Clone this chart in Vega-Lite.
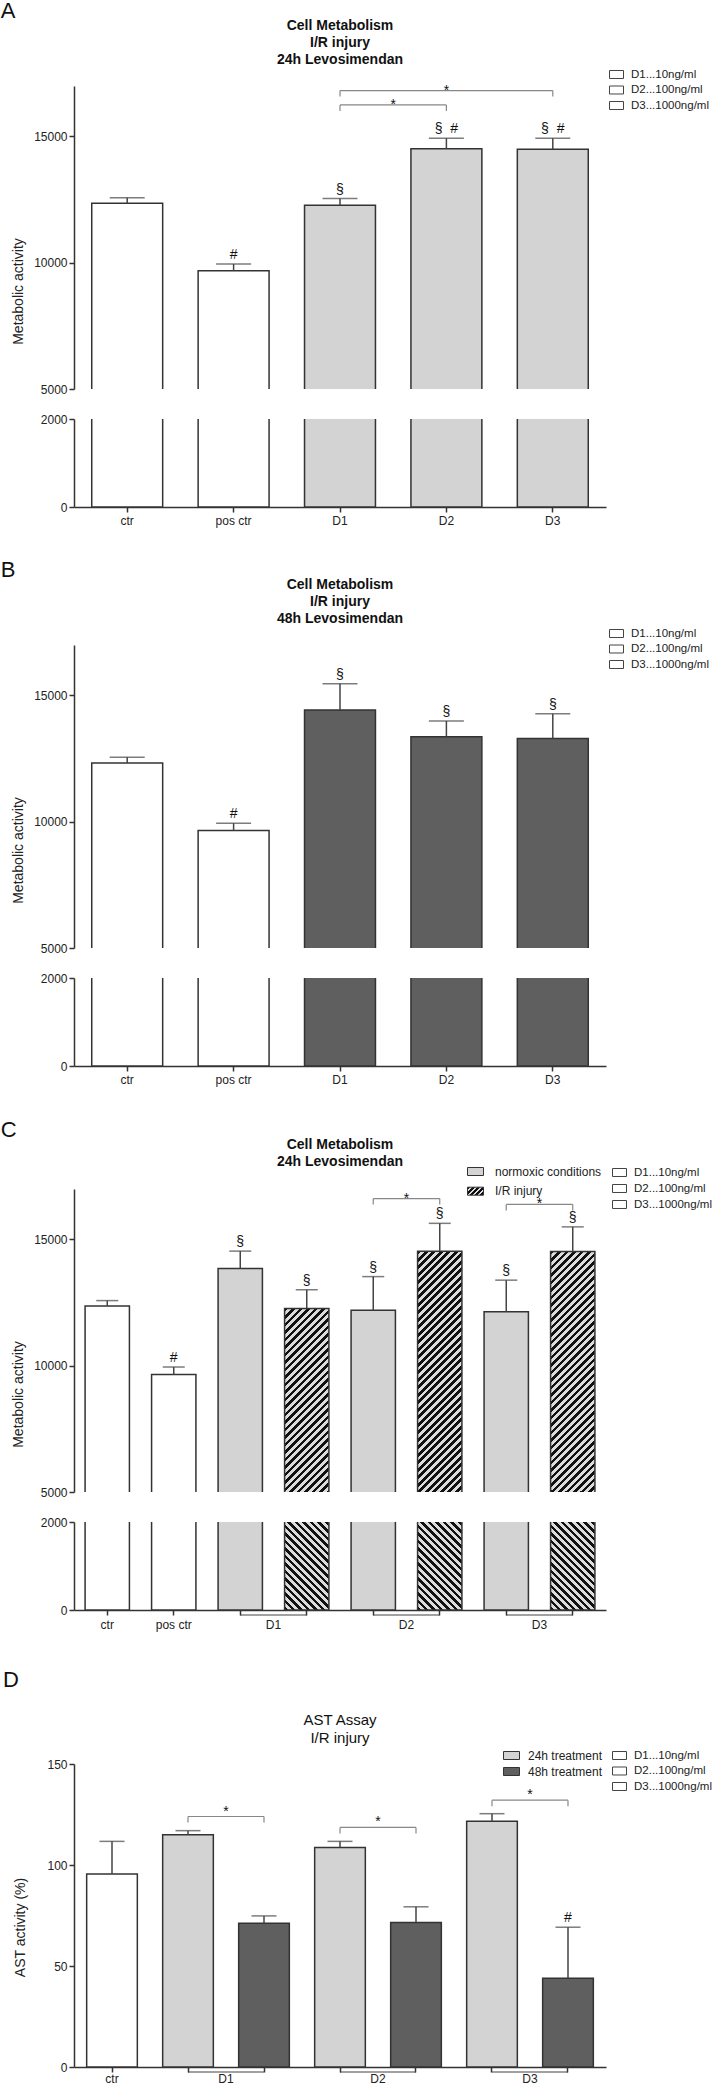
{
"$schema": "https://vega.github.io/schema/vega-lite/v6.json",
"background": "white",
"padding": {"left": 0, "top": 0, "right": 0, "bottom": 0},
"params": [{"name": "hatchStops", "value": [
{"offset":0,"color":"#111"},{"offset":0.0125,"color":"#111"},{"offset":0.0125,"color":"#dcdcdc"},{"offset":0.025,"color":"#dcdcdc"},
{"offset":0.025,"color":"#111"},{"offset":0.0375,"color":"#111"},{"offset":0.0375,"color":"#dcdcdc"},{"offset":0.05,"color":"#dcdcdc"},
{"offset":0.05,"color":"#111"},{"offset":0.0625,"color":"#111"},{"offset":0.0625,"color":"#dcdcdc"},{"offset":0.075,"color":"#dcdcdc"},
{"offset":0.075,"color":"#111"},{"offset":0.0875,"color":"#111"},{"offset":0.0875,"color":"#dcdcdc"},{"offset":0.1,"color":"#dcdcdc"},
{"offset":0.1,"color":"#111"},{"offset":0.1125,"color":"#111"},{"offset":0.1125,"color":"#dcdcdc"},{"offset":0.125,"color":"#dcdcdc"},
{"offset":0.125,"color":"#111"},{"offset":0.1375,"color":"#111"},{"offset":0.1375,"color":"#dcdcdc"},{"offset":0.15,"color":"#dcdcdc"},
{"offset":0.15,"color":"#111"},{"offset":0.1625,"color":"#111"},{"offset":0.1625,"color":"#dcdcdc"},{"offset":0.175,"color":"#dcdcdc"},
{"offset":0.175,"color":"#111"},{"offset":0.1875,"color":"#111"},{"offset":0.1875,"color":"#dcdcdc"},{"offset":0.2,"color":"#dcdcdc"},
{"offset":0.2,"color":"#111"},{"offset":0.2125,"color":"#111"},{"offset":0.2125,"color":"#dcdcdc"},{"offset":0.225,"color":"#dcdcdc"},
{"offset":0.225,"color":"#111"},{"offset":0.2375,"color":"#111"},{"offset":0.2375,"color":"#dcdcdc"},{"offset":0.25,"color":"#dcdcdc"},
{"offset":0.25,"color":"#111"},{"offset":0.2625,"color":"#111"},{"offset":0.2625,"color":"#dcdcdc"},{"offset":0.275,"color":"#dcdcdc"},
{"offset":0.275,"color":"#111"},{"offset":0.2875,"color":"#111"},{"offset":0.2875,"color":"#dcdcdc"},{"offset":0.3,"color":"#dcdcdc"},
{"offset":0.3,"color":"#111"},{"offset":0.3125,"color":"#111"},{"offset":0.3125,"color":"#dcdcdc"},{"offset":0.325,"color":"#dcdcdc"},
{"offset":0.325,"color":"#111"},{"offset":0.3375,"color":"#111"},{"offset":0.3375,"color":"#dcdcdc"},{"offset":0.35,"color":"#dcdcdc"},
{"offset":0.35,"color":"#111"},{"offset":0.3625,"color":"#111"},{"offset":0.3625,"color":"#dcdcdc"},{"offset":0.375,"color":"#dcdcdc"},
{"offset":0.375,"color":"#111"},{"offset":0.3875,"color":"#111"},{"offset":0.3875,"color":"#dcdcdc"},{"offset":0.4,"color":"#dcdcdc"},
{"offset":0.4,"color":"#111"},{"offset":0.4125,"color":"#111"},{"offset":0.4125,"color":"#dcdcdc"},{"offset":0.425,"color":"#dcdcdc"},
{"offset":0.425,"color":"#111"},{"offset":0.4375,"color":"#111"},{"offset":0.4375,"color":"#dcdcdc"},{"offset":0.45,"color":"#dcdcdc"},
{"offset":0.45,"color":"#111"},{"offset":0.4625,"color":"#111"},{"offset":0.4625,"color":"#dcdcdc"},{"offset":0.475,"color":"#dcdcdc"},
{"offset":0.475,"color":"#111"},{"offset":0.4875,"color":"#111"},{"offset":0.4875,"color":"#dcdcdc"},{"offset":0.5,"color":"#dcdcdc"},
{"offset":0.5,"color":"#111"},{"offset":0.5125,"color":"#111"},{"offset":0.5125,"color":"#dcdcdc"},{"offset":0.525,"color":"#dcdcdc"},
{"offset":0.525,"color":"#111"},{"offset":0.5375,"color":"#111"},{"offset":0.5375,"color":"#dcdcdc"},{"offset":0.55,"color":"#dcdcdc"},
{"offset":0.55,"color":"#111"},{"offset":0.5625,"color":"#111"},{"offset":0.5625,"color":"#dcdcdc"},{"offset":0.575,"color":"#dcdcdc"},
{"offset":0.575,"color":"#111"},{"offset":0.5875,"color":"#111"},{"offset":0.5875,"color":"#dcdcdc"},{"offset":0.6,"color":"#dcdcdc"},
{"offset":0.6,"color":"#111"},{"offset":0.6125,"color":"#111"},{"offset":0.6125,"color":"#dcdcdc"},{"offset":0.625,"color":"#dcdcdc"},
{"offset":0.625,"color":"#111"},{"offset":0.6375,"color":"#111"},{"offset":0.6375,"color":"#dcdcdc"},{"offset":0.65,"color":"#dcdcdc"},
{"offset":0.65,"color":"#111"},{"offset":0.6625,"color":"#111"},{"offset":0.6625,"color":"#dcdcdc"},{"offset":0.675,"color":"#dcdcdc"},
{"offset":0.675,"color":"#111"},{"offset":0.6875,"color":"#111"},{"offset":0.6875,"color":"#dcdcdc"},{"offset":0.7,"color":"#dcdcdc"},
{"offset":0.7,"color":"#111"},{"offset":0.7125,"color":"#111"},{"offset":0.7125,"color":"#dcdcdc"},{"offset":0.725,"color":"#dcdcdc"},
{"offset":0.725,"color":"#111"},{"offset":0.7375,"color":"#111"},{"offset":0.7375,"color":"#dcdcdc"},{"offset":0.75,"color":"#dcdcdc"},
{"offset":0.75,"color":"#111"},{"offset":0.7625,"color":"#111"},{"offset":0.7625,"color":"#dcdcdc"},{"offset":0.775,"color":"#dcdcdc"},
{"offset":0.775,"color":"#111"},{"offset":0.7875,"color":"#111"},{"offset":0.7875,"color":"#dcdcdc"},{"offset":0.8,"color":"#dcdcdc"},
{"offset":0.8,"color":"#111"},{"offset":0.8125,"color":"#111"},{"offset":0.8125,"color":"#dcdcdc"},{"offset":0.825,"color":"#dcdcdc"},
{"offset":0.825,"color":"#111"},{"offset":0.8375,"color":"#111"},{"offset":0.8375,"color":"#dcdcdc"},{"offset":0.85,"color":"#dcdcdc"},
{"offset":0.85,"color":"#111"},{"offset":0.8625,"color":"#111"},{"offset":0.8625,"color":"#dcdcdc"},{"offset":0.875,"color":"#dcdcdc"},
{"offset":0.875,"color":"#111"},{"offset":0.8875,"color":"#111"},{"offset":0.8875,"color":"#dcdcdc"},{"offset":0.9,"color":"#dcdcdc"},
{"offset":0.9,"color":"#111"},{"offset":0.9125,"color":"#111"},{"offset":0.9125,"color":"#dcdcdc"},{"offset":0.925,"color":"#dcdcdc"},
{"offset":0.925,"color":"#111"},{"offset":0.9375,"color":"#111"},{"offset":0.9375,"color":"#dcdcdc"},{"offset":0.95,"color":"#dcdcdc"},
{"offset":0.95,"color":"#111"},{"offset":0.9625,"color":"#111"},{"offset":0.9625,"color":"#dcdcdc"},{"offset":0.975,"color":"#dcdcdc"},
{"offset":0.975,"color":"#111"},{"offset":0.9875,"color":"#111"},{"offset":0.9875,"color":"#dcdcdc"},{"offset":1,"color":"#dcdcdc"}
]}],
"datasets": {
"A": [
{"id":"ctr","kind":"control","value":12360,"err":12570,"sig":""},
{"id":"pos ctr","kind":"control","value":9680,"err":9950,"sig":"#"},
{"id":"D1","kind":"dose","value":12280,"err":12540,"sig":"§"},
{"id":"D2","kind":"dose","value":14510,"err":14930,"sig":"§\u00a0\u00a0#"},
{"id":"D3","kind":"dose","value":14500,"err":14930,"sig":"§\u00a0\u00a0#"}
],
"B": [
{"id":"ctr","kind":"control","value":12330,"err":12550,"sig":""},
{"id":"pos ctr","kind":"control","value":9650,"err":9940,"sig":"#"},
{"id":"D1","kind":"dose","value":14430,"err":15470,"sig":"§"},
{"id":"D2","kind":"dose","value":13370,"err":13990,"sig":"§"},
{"id":"D3","kind":"dose","value":13300,"err":14280,"sig":"§"}
],
"C": [
{"id":"ctr","kind":"control","value":12370,"err":12580,"sig":""},
{"id":"pos ctr","kind":"control","value":9650,"err":9950,"sig":"#"},
{"id":"D1 N","kind":"normoxic","value":13850,"err":14540,"sig":"§"},
{"id":"D1 IR","kind":"I/R","value":12270,"err":13010,"sig":"§"},
{"id":"D2 N","kind":"normoxic","value":12200,"err":13530,"sig":"§"},
{"id":"D2 IR","kind":"I/R","value":14530,"err":15640,"sig":"§"},
{"id":"D3 N","kind":"normoxic","value":12140,"err":13390,"sig":"§"},
{"id":"D3 IR","kind":"I/R","value":14520,"err":15500,"sig":"§"}
],
"D": [
{"id":"ctr","kind":"control","value":95.5,"err":111.7,"sig":""},
{"id":"D1 24h","kind":"24h","value":115.0,"err":117.0,"sig":""},
{"id":"D1 48h","kind":"48h","value":71.2,"err":74.8,"sig":""},
{"id":"D2 24h","kind":"24h","value":108.7,"err":111.7,"sig":""},
{"id":"D2 48h","kind":"48h","value":71.5,"err":79.3,"sig":""},
{"id":"D3 24h","kind":"24h","value":121.6,"err":125.4,"sig":""},
{"id":"D3 48h","kind":"48h","value":43.9,"err":69.2,"sig":"#"}
],
"sigA": [{"from":"D1","to":"D2","level":16250,"span":1,"label":"*"},{"from":"D1","to":"D3","level":16820,"span":2,"label":"*"}],
"sigC": [{"from":"D2 N","to":"D2 IR","level":16620,"label":"*"},{"from":"D3 N","to":"D3 IR","level":16390,"label":"*"}],
"sigD": [{"from":"D1 24h","to":"D1 48h","level":124.0,"label":"*"},{"from":"D2 24h","to":"D2 48h","level":118.6,"label":"*"},{"from":"D3 24h","to":"D3 48h","level":132.1,"label":"*"}],
"grpC": [{"from":"D1 N","to":"D1 IR"},{"from":"D2 N","to":"D2 IR"},{"from":"D3 N","to":"D3 IR"}],
"grpD": [{"from":"D1 24h","to":"D1 48h"},{"from":"D2 24h","to":"D2 48h"},{"from":"D3 24h","to":"D3 48h"}],
"doses": [{"dose":"D1...10ng/ml"},{"dose":"D2...100ng/ml"},{"dose":"D3...1000ng/ml"}],
"conds": [{"cond":"normoxic conditions"},{"cond":"I/R injury"}],
"treats": [{"treat":"24h treatment"},{"treat":"48h treatment"}]
},
"config": {
"font": "Liberation Sans",
"view": {"stroke": null},
"axis": {"domainColor":"#333","domainWidth":1.5,"tickColor":"#333","tickWidth":1.5,"tickSize":5,"labelColor":"#222","labelFontSize":12,"labelFont":"Liberation Sans","titleFont":"Liberation Sans","titleFontSize":14,"titleFontWeight":"normal","titleColor":"#222","grid":false,"labelPadding":2},
"legend": {"labelFont":"Liberation Sans","labelFontSize":11.5,"labelColor":"#222"},
"title": {"font":"Liberation Sans","color":"#111"}
},
"resolve": {"scale": {"color":"independent","fill":"independent","stroke":"independent"}, "legend": {"color":"independent","fill":"independent","stroke":"independent"}},
"spacing": 39,
"vconcat": [
{
"spacing": 33,
"resolve": {"scale": {"color":"independent","fill":"independent","stroke":"independent"}, "legend": {"color":"independent","fill":"independent","stroke":"independent"}},
"vconcat": [
{
"title": {"text":"A","anchor":"start","frame":"bounds","fontSize":22,"fontWeight":"normal","dx":-11,"offset":-4},
"spacing": 30,
"bounds": "flush",
"resolve": {"scale": {"color":"independent","fill":"independent","stroke":"independent"}, "legend": {"color":"independent","fill":"independent","stroke":"independent"}},
"vconcat": [
{
"width": 532, "height": 303,
"title": {"text":["Cell Metabolism","I/R injury","24h Levosimendan"],"fontSize":14,"fontWeight":"bold","lineHeight":17,"anchor":"middle","frame":"group","offset":0},
"data": {"name":"A"},
"layer": [
{"mark":{"type":"bar","stroke":"#333","strokeWidth":1.5,"clip":true},
"encoding":{
"x":{"field":"id","type":"nominal","scale":{"domain":["ctr","pos ctr","D1","D2","D3"],"paddingInner":0.3333,"paddingOuter":0.1667},"axis":null},
"y":{"field":"value","type":"quantitative","scale":{"domain":[5000,17000],"nice":false,"zero":false},"axis":{"values":[5000,10000,15000],"format":"d","title":"Metabolic activity","titleY":205,"titlePadding":8}},
"y2":{"datum":4900},
"color":{"field":"kind","type":"nominal","scale":{"domain":["control","dose"],"range":["#ffffff","#d3d3d3"]},"legend":null}}},
{"mark":{"type":"rule","color":"#444","strokeWidth":1.5},"encoding":{"x":{"field":"id","type":"nominal"},"y":{"field":"value","type":"quantitative"},"y2":{"field":"err"}}},
{"mark":{"type":"tick","orient":"horizontal","color":"#444","thickness":1.5,"size":35},"encoding":{"x":{"field":"id","type":"nominal"},"y":{"field":"err","type":"quantitative"}}},
{"mark":{"type":"text","fontSize":14,"baseline":"alphabetic","dy":-5,"color":"#111","font":"Liberation Sans"},"encoding":{"x":{"field":"id","type":"nominal"},"y":{"field":"err","type":"quantitative"},"text":{"field":"sig"}}},
{"data":{"name":"sigA"},"mark":{"type":"rule","color":"#888","strokeWidth":1.2},"encoding":{"x":{"field":"from","type":"nominal"},"x2":{"field":"to"},"y":{"field":"level","type":"quantitative"}}},
{"data":{"name":"sigA"},"mark":{"type":"rule","color":"#888","strokeWidth":1.2,"y2Offset":6},"encoding":{"x":{"field":"from","type":"nominal"},"y":{"field":"level","type":"quantitative"},"y2":{"field":"level"}}},
{"data":{"name":"sigA"},"mark":{"type":"rule","color":"#888","strokeWidth":1.2,"y2Offset":6},"encoding":{"x":{"field":"to","type":"nominal"},"y":{"field":"level","type":"quantitative"},"y2":{"field":"level"}}},
{"data":{"name":"sigA"},"transform":[{"filter":"datum.span == 1"}],"mark":{"type":"text","fontSize":14,"baseline":"alphabetic","dy":4,"color":"#111"},"encoding":{"x":{"field":"from","type":"nominal","bandPosition":1.25},"y":{"field":"level","type":"quantitative"},"text":{"field":"label"}}},
{"data":{"name":"sigA"},"transform":[{"filter":"datum.span == 2"}],"mark":{"type":"text","fontSize":14,"baseline":"alphabetic","dy":4,"color":"#111"},"encoding":{"x":{"field":"from","type":"nominal","bandPosition":2.0},"y":{"field":"level","type":"quantitative"},"text":{"field":"label"}}},
{"data":{"name":"doses"},"mark":{"type":"point","opacity":0},"encoding":{"stroke":{"field":"dose","type":"nominal","scale":{"domain":["D1...10ng/ml","D2...100ng/ml","D3...1000ng/ml"],"range":["#444","#444","#444"]},"legend":{"orient":"none","legendX":535,"legendY":-19,"title":null,"symbolType":"M-1,-0.571H1V0.571H-1Z","symbolSize":196,"symbolStrokeWidth":1,"symbolOpacity":1,"rowPadding":1.5,"labelOffset":7}}}}
]
},
{
"width": 532, "height": 88,
"data": {"name":"A"},
"mark":{"type":"bar","stroke":"#333","strokeWidth":1.5,"clip":true},
"encoding":{
"x":{"field":"id","type":"nominal","scale":{"domain":["ctr","pos ctr","D1","D2","D3"],"paddingInner":0.3333,"paddingOuter":0.1667},"axis":{"title":null,"labelAngle":0,"labelPadding":3,"tickSize":5,"labelOverlap":false}},
"y":{"datum":2100,"type":"quantitative","scale":{"domain":[0,2000],"nice":false},"axis":{"values":[0,2000],"format":"d","title":null}},
"y2":{"datum":0},
"color":{"field":"kind","type":"nominal","scale":{"domain":["control","dose"],"range":["#ffffff","#d3d3d3"]},"legend":null}}
}
]
},
{
"title": {"text":"B","anchor":"start","frame":"bounds","fontSize":22,"fontWeight":"normal","dx":-11,"offset":-4},
"spacing": 30,
"bounds": "flush",
"resolve": {"scale": {"color":"independent","fill":"independent","stroke":"independent"}, "legend": {"color":"independent","fill":"independent","stroke":"independent"}},
"vconcat": [
{
"width": 532, "height": 303,
"title": {"text":["Cell Metabolism","I/R injury","48h Levosimendan"],"fontSize":14,"fontWeight":"bold","lineHeight":17,"anchor":"middle","frame":"group","offset":0},
"data": {"name":"B"},
"layer": [
{"mark":{"type":"bar","stroke":"#333","strokeWidth":1.5,"clip":true},
"encoding":{
"x":{"field":"id","type":"nominal","scale":{"domain":["ctr","pos ctr","D1","D2","D3"],"paddingInner":0.3333,"paddingOuter":0.1667},"axis":null},
"y":{"field":"value","type":"quantitative","scale":{"domain":[5000,17000],"nice":false,"zero":false},"axis":{"values":[5000,10000,15000],"format":"d","title":"Metabolic activity","titleY":205,"titlePadding":8}},
"y2":{"datum":4900},
"color":{"field":"kind","type":"nominal","scale":{"domain":["control","dose"],"range":["#ffffff","#5f5f5f"]},"legend":null}}},
{"mark":{"type":"rule","color":"#444","strokeWidth":1.5},"encoding":{"x":{"field":"id","type":"nominal"},"y":{"field":"value","type":"quantitative"},"y2":{"field":"err"}}},
{"mark":{"type":"tick","orient":"horizontal","color":"#444","thickness":1.5,"size":35},"encoding":{"x":{"field":"id","type":"nominal"},"y":{"field":"err","type":"quantitative"}}},
{"mark":{"type":"text","fontSize":14,"baseline":"alphabetic","dy":-5,"color":"#111"},"encoding":{"x":{"field":"id","type":"nominal"},"y":{"field":"err","type":"quantitative"},"text":{"field":"sig"}}},
{"data":{"name":"doses"},"mark":{"type":"point","opacity":0},"encoding":{"stroke":{"field":"dose","type":"nominal","scale":{"domain":["D1...10ng/ml","D2...100ng/ml","D3...1000ng/ml"],"range":["#444","#444","#444"]},"legend":{"orient":"none","legendX":535,"legendY":-19,"title":null,"symbolType":"M-1,-0.571H1V0.571H-1Z","symbolSize":196,"symbolStrokeWidth":1,"symbolOpacity":1,"rowPadding":1.5,"labelOffset":7}}}}
]
},
{
"width": 532, "height": 88,
"data": {"name":"B"},
"mark":{"type":"bar","stroke":"#333","strokeWidth":1.5,"clip":true},
"encoding":{
"x":{"field":"id","type":"nominal","scale":{"domain":["ctr","pos ctr","D1","D2","D3"],"paddingInner":0.3333,"paddingOuter":0.1667},"axis":{"title":null,"labelAngle":0,"labelPadding":3,"tickSize":5,"labelOverlap":false}},
"y":{"datum":2100,"type":"quantitative","scale":{"domain":[0,2000],"nice":false},"axis":{"values":[0,2000],"format":"d","title":null}},
"y2":{"datum":0},
"color":{"field":"kind","type":"nominal","scale":{"domain":["control","dose"],"range":["#ffffff","#5f5f5f"]},"legend":null}}
}
]
},
{
"title": {"text":"C","anchor":"start","frame":"bounds","fontSize":22,"fontWeight":"normal","dx":-11,"offset":-4},
"spacing": 30,
"bounds": "flush",
"resolve": {"scale": {"color":"independent","fill":"independent","stroke":"independent"}, "legend": {"color":"independent","fill":"independent","stroke":"independent"}},
"vconcat": [
{
"width": 532, "height": 303,
"title": {"text":["Cell Metabolism","24h Levosimendan"],"fontSize":14,"fontWeight":"bold","lineHeight":17,"anchor":"middle","frame":"group","offset":-5.5},
"data": {"name":"C"},
"layer": [
{"transform":[{"filter":"datum.kind != 'I/R'"}],"mark":{"type":"bar","stroke":"#333","strokeWidth":1.5,"clip":true},
"encoding":{
"x":{"field":"id","type":"nominal","scale":{"domain":["ctr","pos ctr","D1 N","D1 IR","D2 N","D2 IR","D3 N","D3 IR"],"paddingInner":0.3333,"paddingOuter":0.1667},"axis":null},
"y":{"field":"value","type":"quantitative","scale":{"domain":[5000,17000],"nice":false,"zero":false},"axis":{"values":[5000,10000,15000],"format":"d","title":"Metabolic activity","titleY":205,"titlePadding":8}},
"y2":{"datum":4900},
"color":{"field":"kind","type":"nominal","scale":{"domain":["control","normoxic"],"range":["#ffffff","#d3d3d3"]},"legend":null}}},
{"transform":[{"filter":"datum.id == 'D2 IR' || datum.id == 'D3 IR'"}],"mark":{"type":"bar","stroke":"#333","strokeWidth":1.5,"clip":true,"fill":{"expr":"{gradient:'linear',x1:0,y1:0,x2:0.2178,y2:1.1943,stops:hatchStops}"}},
"encoding":{"x":{"field":"id","type":"nominal"},"y":{"field":"value","type":"quantitative"},"y2":{"datum":4900}}},
{"transform":[{"filter":"datum.id == 'D1 IR'"}],"mark":{"type":"bar","stroke":"#333","strokeWidth":1.5,"clip":true,"fill":{"expr":"{gradient:'linear',x1:0,y1:0,x2:0.3634,y2:1.5255,stops:hatchStops}"}},
"encoding":{"x":{"field":"id","type":"nominal"},"y":{"field":"value","type":"quantitative"},"y2":{"datum":4900}}},
{"mark":{"type":"rule","color":"#444","strokeWidth":1.5},"encoding":{"x":{"field":"id","type":"nominal"},"y":{"field":"value","type":"quantitative"},"y2":{"field":"err"}}},
{"mark":{"type":"tick","orient":"horizontal","color":"#444","thickness":1.5,"size":22},"encoding":{"x":{"field":"id","type":"nominal"},"y":{"field":"err","type":"quantitative"}}},
{"mark":{"type":"text","fontSize":14,"baseline":"alphabetic","dy":-5,"color":"#111"},"encoding":{"x":{"field":"id","type":"nominal"},"y":{"field":"err","type":"quantitative"},"text":{"field":"sig"}}},
{"data":{"name":"sigC"},"mark":{"type":"rule","color":"#888","strokeWidth":1.2},"encoding":{"x":{"field":"from","type":"nominal"},"x2":{"field":"to"},"y":{"field":"level","type":"quantitative"}}},
{"data":{"name":"sigC"},"mark":{"type":"rule","color":"#888","strokeWidth":1.2,"y2Offset":6},"encoding":{"x":{"field":"from","type":"nominal"},"y":{"field":"level","type":"quantitative"},"y2":{"field":"level"}}},
{"data":{"name":"sigC"},"mark":{"type":"rule","color":"#888","strokeWidth":1.2,"y2Offset":6},"encoding":{"x":{"field":"to","type":"nominal"},"y":{"field":"level","type":"quantitative"},"y2":{"field":"level"}}},
{"data":{"name":"sigC"},"mark":{"type":"text","fontSize":14,"baseline":"alphabetic","dy":4,"color":"#111"},"encoding":{"x":{"field":"from","type":"nominal","bandPosition":1.25},"y":{"field":"level","type":"quantitative"},"text":{"field":"label"}}},
{"data":{"name":"conds"},"mark":{"type":"square","opacity":0,"stroke":"#333"},"encoding":{"fill":{"field":"cond","type":"nominal","scale":{"domain":["normoxic conditions","I/R injury"],"range":["#d3d3d3",{"expr":"{gradient:'linear',x1:0,y1:0,x2:10,y2:5,stops:hatchStops}"}]},"legend":{"orient":"none","legendX":393,"legendY":-26,"title":null,"symbolType":"M-1,-0.5H1V0.5H-1Z","symbolSize":256,"symbolStrokeColor":"#333","symbolStrokeWidth":1,"symbolOpacity":1,"rowPadding":4.7,"labelOffset":11,"labelFontSize":12}}}},
{"data":{"name":"doses"},"mark":{"type":"point","opacity":0},"encoding":{"stroke":{"field":"dose","type":"nominal","scale":{"domain":["D1...10ng/ml","D2...100ng/ml","D3...1000ng/ml"],"range":["#444","#444","#444"]},"legend":{"orient":"none","legendX":538,"legendY":-24,"title":null,"symbolType":"M-1,-0.571H1V0.571H-1Z","symbolSize":196,"symbolStrokeWidth":1,"symbolOpacity":1,"rowPadding":2,"labelOffset":7}}}}
]
},
{
"width": 532, "height": 88,
"data": {"name":"C"},
"layer": [
{"transform":[{"filter":"datum.kind != 'I/R'"}],"mark":{"type":"bar","stroke":"#333","strokeWidth":1.5,"clip":true},
"encoding":{
"x":{"field":"id","type":"nominal","scale":{"domain":["ctr","pos ctr","D1 N","D1 IR","D2 N","D2 IR","D3 N","D3 IR"],"paddingInner":0.3333,"paddingOuter":0.1667},"axis":{"title":null,"labelAngle":0,"labelPadding":4,"tickSize":5,"labelOverlap":false,"labelExpr":"datum.value == 'ctr' || datum.value == 'pos ctr' ? datum.value : (indexof(datum.value, ' N') > 0 ? substring(datum.value, 0, 2) : '')","labelOffset":{"condition":{"test":"indexof(datum.value, ' N') > 0","value":33.25},"value":0}}},
"y":{"datum":2100,"type":"quantitative","scale":{"domain":[0,2000],"nice":false},"axis":{"values":[0,2000],"format":"d","title":null}},
"y2":{"datum":0},
"color":{"field":"kind","type":"nominal","scale":{"domain":["control","normoxic"],"range":["#ffffff","#d3d3d3"]},"legend":null}}},
{"transform":[{"filter":"datum.kind == 'I/R'"}],"mark":{"type":"bar","stroke":"#333","strokeWidth":1.5,"clip":true,"fill":{"expr":"{gradient:'linear',x1:0,y1:1,x2:1.2662,y2:-1.6393,stops:hatchStops}"}},
"encoding":{"x":{"field":"id","type":"nominal"},"y":{"datum":2100,"type":"quantitative"},"y2":{"datum":0}}},
{"data":{"name":"grpC"},"mark":{"type":"rule","color":"#444","strokeWidth":1.2,"yOffset":5},"encoding":{"x":{"field":"from","type":"nominal"},"x2":{"field":"to"},"y":{"datum":0,"type":"quantitative"}}}
]
}
]
}
]
},
{
"title": {"text":"D","anchor":"start","frame":"bounds","fontSize":22,"fontWeight":"normal","dx":-11,"offset":21},
"resolve": {"scale": {"color":"independent","fill":"independent","stroke":"independent"}, "legend": {"color":"independent","fill":"independent","stroke":"independent"}},
"vconcat": [
{
"width": 532, "height": 303,
"title": {"text":["AST Assay","I/R injury"],"fontSize":15,"fontWeight":"normal","lineHeight":17.5,"anchor":"middle","frame":"group","offset":1.5},
"data": {"name":"D"},
"layer": [
{"mark":{"type":"bar","stroke":"#333","strokeWidth":1.5},
"encoding":{
"x":{"field":"id","type":"nominal","scale":{"domain":["ctr","D1 24h","D1 48h","D2 24h","D2 48h","D3 24h","D3 48h"],"paddingInner":0.3333,"paddingOuter":0.1667},"axis":{"title":null,"labelAngle":0,"labelPadding":1,"tickSize":5,"labelOverlap":false,"labelExpr":"datum.value == 'ctr' ? 'ctr' : (indexof(datum.value, '24h') > 0 ? substring(datum.value, 0, 2) : '')","labelOffset":{"condition":{"test":"indexof(datum.value, '24h') > 0","value":38},"value":0}}},
"y":{"field":"value","type":"quantitative","scale":{"domain":[0,150],"nice":false},"axis":{"values":[0,50,100,150],"title":"AST activity (%)","titleY":163,"titlePadding":19}},
"color":{"field":"kind","type":"nominal","scale":{"domain":["control","24h","48h"],"range":["#ffffff","#d3d3d3","#5f5f5f"]},"legend":null}}},
{"mark":{"type":"rule","color":"#444","strokeWidth":1.5},"encoding":{"x":{"field":"id","type":"nominal"},"y":{"field":"value","type":"quantitative"},"y2":{"field":"err"}}},
{"mark":{"type":"tick","orient":"horizontal","color":"#444","thickness":1.5,"size":25},"encoding":{"x":{"field":"id","type":"nominal"},"y":{"field":"err","type":"quantitative"}}},
{"mark":{"type":"text","fontSize":14,"baseline":"alphabetic","dy":-5,"color":"#111"},"encoding":{"x":{"field":"id","type":"nominal"},"y":{"field":"err","type":"quantitative"},"text":{"field":"sig"}}},
{"data":{"name":"sigD"},"mark":{"type":"rule","color":"#888","strokeWidth":1.2},"encoding":{"x":{"field":"from","type":"nominal"},"x2":{"field":"to"},"y":{"field":"level","type":"quantitative"}}},
{"data":{"name":"sigD"},"mark":{"type":"rule","color":"#888","strokeWidth":1.2,"y2Offset":6},"encoding":{"x":{"field":"from","type":"nominal"},"y":{"field":"level","type":"quantitative"},"y2":{"field":"level"}}},
{"data":{"name":"sigD"},"mark":{"type":"rule","color":"#888","strokeWidth":1.2,"y2Offset":6},"encoding":{"x":{"field":"to","type":"nominal"},"y":{"field":"level","type":"quantitative"},"y2":{"field":"level"}}},
{"data":{"name":"sigD"},"mark":{"type":"text","fontSize":14,"baseline":"alphabetic","dy":-1,"color":"#111"},"encoding":{"x":{"field":"from","type":"nominal","bandPosition":1.25},"y":{"field":"level","type":"quantitative"},"text":{"field":"label"}}},
{"data":{"name":"grpD"},"mark":{"type":"rule","color":"#444","strokeWidth":1.2,"yOffset":5},"encoding":{"x":{"field":"from","type":"nominal"},"x2":{"field":"to"},"y":{"datum":0,"type":"quantitative"}}},
{"data":{"name":"treats"},"mark":{"type":"square","opacity":0,"stroke":"#333"},"encoding":{"fill":{"field":"treat","type":"nominal","scale":{"domain":["24h treatment","48h treatment"],"range":["#d3d3d3","#5f5f5f"]},"legend":{"orient":"none","legendX":429,"legendY":-17,"title":null,"symbolType":"M-1,-0.5H1V0.5H-1Z","symbolSize":256,"symbolStrokeColor":"#333","symbolStrokeWidth":1,"symbolOpacity":1,"rowPadding":1,"labelOffset":8,"labelFontSize":12}}}},
{"data":{"name":"doses"},"mark":{"type":"point","opacity":0},"encoding":{"stroke":{"field":"dose","type":"nominal","scale":{"domain":["D1...10ng/ml","D2...100ng/ml","D3...1000ng/ml"],"range":["#444","#444","#444"]},"legend":{"orient":"none","legendX":538,"legendY":-16,"title":null,"symbolType":"M-1,-0.571H1V0.571H-1Z","symbolSize":196,"symbolStrokeWidth":1,"symbolOpacity":1,"rowPadding":1.5,"labelOffset":7}}}}
]
}
]
}
]
}
